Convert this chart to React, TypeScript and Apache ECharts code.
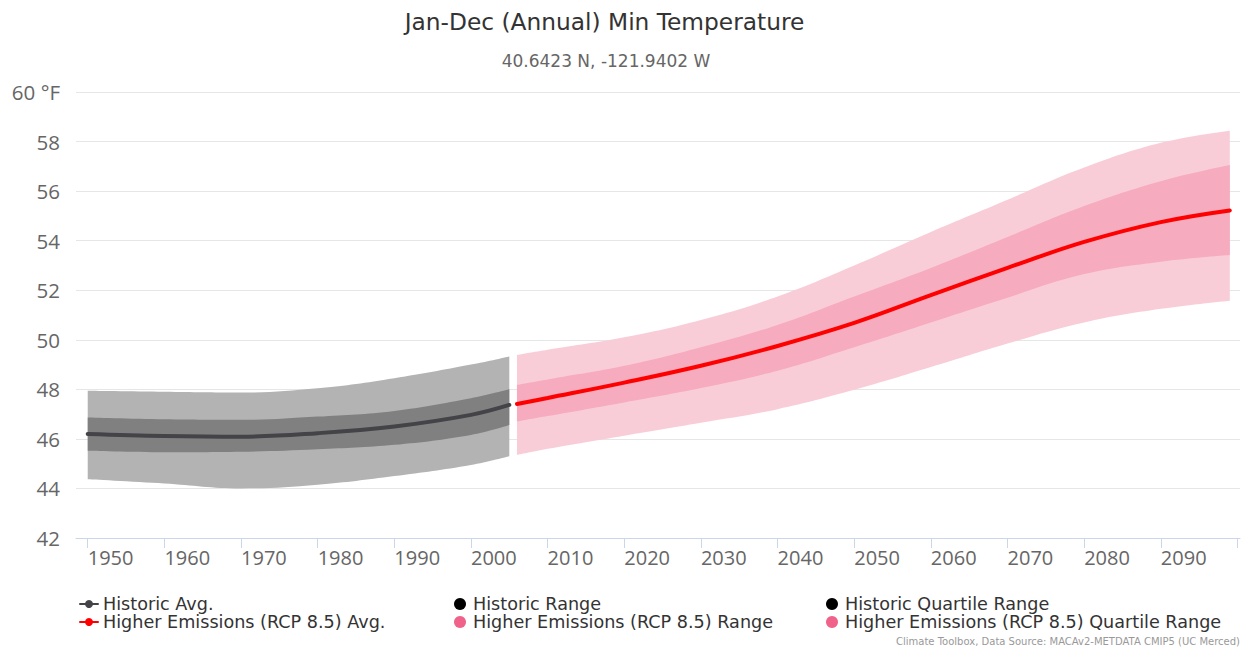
import React, { useEffect, useRef } from "react";
import * as echarts from "echarts";

const histYears = [1950, 1960, 1970, 1980, 1990, 2000, 2005];
const histAvg = [46.2, 46.12, 46.09, 46.23, 46.5, 46.97, 47.37];
const histRangeLow = [44.37, 44.2, 44.0, 44.15, 44.5, 44.95, 45.3];
const histRangeHigh = [47.94, 47.9, 47.87, 48.04, 48.45, 49.0, 49.33];
const histQuartLow = [45.52, 45.46, 45.48, 45.58, 45.76, 46.16, 46.56];
const histQuartHigh = [46.86, 46.79, 46.77, 46.9, 47.13, 47.64, 48.0];

const futYears = [2006, 2010, 2020, 2030, 2040, 2050, 2060, 2070, 2080, 2090, 2099];
const futAvg = [47.41, 47.65, 48.27, 48.95, 49.75, 50.68, 51.8, 52.9, 53.95, 54.75, 55.22];
const futRangeLow = [45.35, 45.6, 46.13, 46.65, 47.2, 47.98, 48.9, 49.85, 50.7, 51.25, 51.58];
const futRangeHigh = [49.39, 49.6, 50.1, 50.8, 51.75, 53.0, 54.35, 55.65, 56.95, 57.95, 58.44];
const futQuartLow = [46.7, 46.92, 47.47, 48.05, 48.75, 49.7, 50.7, 51.7, 52.65, 53.15, 53.42];
const futQuartHigh = [48.18, 48.4, 48.95, 49.7, 50.6, 51.75, 52.9, 54.15, 55.4, 56.4, 57.05];

const xTickValues = [1950, 1960, 1970, 1980, 1990, 2000, 2010, 2020, 2030, 2040, 2050, 2060, 2070, 2080, 2090, 2100];
const xLabelValues = [1950, 1960, 1970, 1980, 1990, 2000, 2010, 2020, 2030, 2040, 2050, 2060, 2070, 2080, 2090];

const NAMES = {
  histAvg: "Historic Avg.",
  histRange: "Historic Range",
  histQuart: "Historic Quartile Range",
  futAvg: "Higher Emissions (RCP 8.5) Avg.",
  futRange: "Higher Emissions (RCP 8.5) Range",
  futQuart: "Higher Emissions (RCP 8.5) Quartile Range",
};

const SMOOTH = 0.4;

function band(name: string, stackId: string, years: number[], low: number[], high: number[], color: string, z: number) {
  return [
    {
      type: "line",
      name: stackId + "_base",
      stack: stackId,
      encode: { x: 1, y: 0 },
      data: years.map((y, i) => [low[i], y]),
      symbol: "none",
      smooth: SMOOTH,
      lineStyle: { opacity: 0, width: 0 },
      silent: true,
      z,
    },
    {
      type: "line",
      name,
      stack: stackId,
      encode: { x: 1, y: 0 },
      data: years.map((y, i) => [high[i] - low[i], y]),
      symbol: "none",
      smooth: SMOOTH,
      lineStyle: { opacity: 0, width: 0 },
      areaStyle: { color, opacity: 1 },
      silent: true,
      z,
    },
  ];
}

function avgLine(name: string, years: number[], vals: number[], color: string) {
  return {
    type: "line",
    name,
    data: years.map((y, i) => [y, vals[i]]),
    symbol: "circle",
    symbolSize: 8,
    showSymbol: false,
    smooth: SMOOTH,
    lineStyle: { color, width: 4, cap: "round" },
    itemStyle: { color },
    silent: true,
    z: 10,
  };
}

const legendText = { fontFamily: "DejaVu Sans", fontSize: 17.6, color: "#333333", lineHeight: 17 };

export default function App() {
  const ref = useRef<HTMLDivElement>(null);
  useEffect(() => {
    const chart = echarts.init(ref.current!, null, { renderer: "svg" });
    const option: any = {
      animation: false,
      backgroundColor: "#ffffff",
      grid: { left: 76, right: 1, top: 92, bottom: 112, containLabel: false },
      xAxis: {
        type: "value",
        min: 1948.47,
        max: 2100.33,
        axisLine: { show: true, lineStyle: { color: "#ccd6eb", width: 1 } },
        axisTick: { show: true, length: 10, customValues: xTickValues, lineStyle: { color: "#ccd6eb" } },
        axisLabel: {
          customValues: xLabelValues,
          align: "left",
          margin: 9,
          fontFamily: "Open Sans",
          fontSize: 20,
          color: "#666666",
          formatter: (v: number) => String(v),
        },
        splitLine: { show: false },
      },
      yAxis: {
        type: "value",
        min: 42,
        max: 60,
        interval: 2,
        axisLine: { show: false },
        axisTick: { show: false },
        axisLabel: {
          margin: 16,
          fontFamily: "Open Sans",
          fontSize: 20.5,
          color: "#666666",
          padding: [0, 0, 6, 0],
          formatter: (v: number) => (v === 60 ? "60 °F" : String(v)),
        },
        splitLine: { show: true, lineStyle: { color: "#e6e6e6", width: 1 } },
      },
      legend: [
        {
          left: 79,
          top: 595,
          padding: 0,
          orient: "vertical",
          itemGap: 0,
          itemWidth: 18,
          itemHeight: 10,
          selectedMode: false,
          textStyle: legendText,
          data: [{ name: NAMES.histAvg }, { name: NAMES.futAvg }],
        },
        {
          left: 454,
          top: 595,
          padding: 0,
          orient: "vertical",
          itemGap: 0,
          itemWidth: 16,
          itemHeight: 12,
          selectedMode: false,
          textStyle: legendText,
          data: [
            { name: NAMES.histRange, icon: "circle", itemStyle: { color: "#000000" } },
            { name: NAMES.futRange, icon: "circle", itemStyle: { color: "#f06289" } },
          ],
        },
        {
          left: 826,
          top: 595,
          padding: 0,
          orient: "vertical",
          itemGap: 0,
          itemWidth: 16,
          itemHeight: 12,
          selectedMode: false,
          textStyle: legendText,
          data: [
            { name: NAMES.histQuart, icon: "circle", itemStyle: { color: "#000000" } },
            { name: NAMES.futQuart, icon: "circle", itemStyle: { color: "#f06289" } },
          ],
        },
      ],
      graphic: [
        {
          type: "text",
          x: 604.5,
          y: 21,
          style: {
            text: "Jan-Dec (Annual) Min Temperature",
            fontFamily: "DejaVu Sans",
            fontSize: 23.3,
            fill: "#333333",
            align: "center",
            verticalAlign: "middle",
          },
        },
        {
          type: "text",
          x: 606,
          y: 61,
          style: {
            text: "40.6423 N, -121.9402 W",
            fontFamily: "DejaVu Sans",
            fontSize: 17,
            fill: "#666666",
            align: "center",
            verticalAlign: "middle",
          },
        },
        {
          type: "text",
          x: 1240,
          y: 641,
          style: {
            text: "Climate Toolbox, Data Source: MACAv2-METDATA CMIP5 (UC Merced)",
            fontFamily: "DejaVu Sans",
            fontSize: 10,
            fill: "#999999",
            align: "right",
            verticalAlign: "middle",
          },
        },
      ],
      series: [
        ...band(NAMES.histRange, "hr", histYears, histRangeLow, histRangeHigh, "#b3b3b3", 2),
        ...band(NAMES.histQuart, "hq", histYears, histQuartLow, histQuartHigh, "#808080", 3),
        ...band(NAMES.futRange, "fr", futYears, futRangeLow, futRangeHigh, "#f9cdd8", 2),
        ...band(NAMES.futQuart, "fq", futYears, futQuartLow, futQuartHigh, "#f6abbe", 3),
        avgLine(NAMES.histAvg, histYears, histAvg, "#434348"),
        avgLine(NAMES.futAvg, futYears, futAvg, "#ff0000"),
      ],
    };
    chart.setOption(option);
    return () => chart.dispose();
  }, []);
  return <div ref={ref} style={{ position: "fixed", left: 0, top: 0, width: 1241, height: 650 }} />;
}
